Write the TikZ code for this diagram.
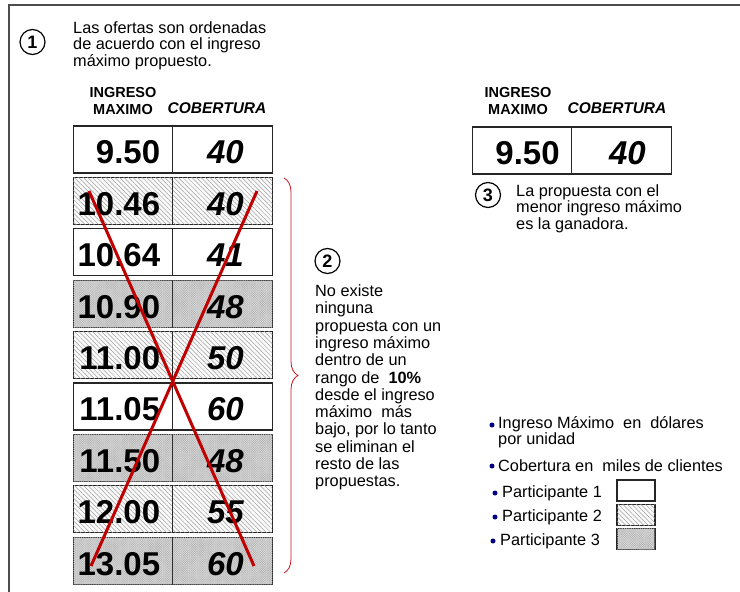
\documentclass[tikz,border=0pt]{standalone}
\usepackage{fontspec}
\setmainfont{Liberation Sans}
\usetikzlibrary{positioning,patterns.meta,decorations.pathreplacing}

\definecolor{rojocruz}{RGB}{192,0,0}
\definecolor{rojollave}{RGB}{200,20,30}
\definecolor{azulvineta}{RGB}{0,0,128}

\tikzset{
  cell/.style={draw=black!85, line width=1.2pt, minimum width=99.5pt, minimum height=47pt, inner sep=0pt},
  part1/.style={fill=white},
  part2/.style={fill=gray!4, postaction={pattern={Lines[angle=-45,distance=3.2pt,line width=0.5pt]}, pattern color=gray!75}},
  part3/.style={fill=gray!28, postaction={pattern={Hatch[angle=45,distance=1.6pt,line width=0.25pt]}, pattern color=gray!60}},
  num/.style={font=\fontsize{33}{33}\selectfont\bfseries, inner sep=0pt},
  numcob/.style={font=\fontsize{33}{33}\selectfont\bfseries\itshape, inner sep=0pt},
  head/.style={font=\fontsize{14.5}{17}\selectfont\bfseries, align=center, inner sep=0pt},
  headcob/.style={font=\fontsize{15.5}{17}\selectfont\bfseries\itshape, inner sep=0pt},
  texto/.style={font=\fontsize{16.3}{16.5}\selectfont, align=left, inner sep=0pt},
  paso/.style={circle, draw, line width=1.2pt, minimum size=25pt, inner sep=0pt, font=\fontsize{18}{18}\selectfont\bfseries},
  cruz/.style={draw=rojocruz, line width=3pt},
  llave/.style={draw=rojollave, line width=0.8pt, decorate, decoration={brace, amplitude=14pt}},
  vineta/.style={circle, fill=azulvineta, minimum size=5pt, inner sep=0pt},
  legbox/.style={draw=black!85, line width=1.1pt, minimum width=38pt, minimum height=21pt, inner sep=0pt}
}

\begin{document}
\begin{tikzpicture}[x=1pt,y=-1pt]
  \useasboundingbox (0,0) rectangle (740,592);
  % marco
  \draw[black!70, line width=1.5pt] (740,5) -- (9,5) -- (9,592);

  % paso 1
  \node[paso] (paso1) at (32.5,42) {1};
  \node[texto, anchor=north west] (texto1) at (73,21)
    {Las ofertas son ordenadas\\de acuerdo con el ingreso\\máximo propuesto.};
  \node[head] (hing) at (123,101) {INGRESO\\MAXIMO};
  \node[headcob] (hcob) at (217,108) {COBERTURA};

  % tabla de ofertas
  \foreach \ing/\cob/\tipo [count=\i] in {9.50/40/part1, 10.46/40/part2, 10.64/41/part1,
      10.90/48/part3, 11.00/50/part2, 11.05/60/part1, 11.50/48/part3, 12.00/55/part2, 13.05/60/part3}{
    \pgfmathsetmacro{\yrow}{149.5+(\i-1)*51.4}
    \node[cell,\tipo] (ing\i) at (123,\yrow) {};
    \node[cell,\tipo] (cob\i) at (222.5,\yrow) {};
    \node[num, left=13pt of ing\i.east, yshift=-3pt] (vi\i) {\ing};
    \node[numcob, xshift=3pt, yshift=-3pt] (vc\i) at (cob\i) {\cob};
  }

  % cruz roja
  \coordinate (xa) at (89,191);
  \coordinate (xb) at (254,566);
  \coordinate (xc) at (257,191);
  \coordinate (xd) at (91,566);
  \draw[cruz] (xa) -- (xb);
  \draw[cruz] (xc) -- (xd);

  % llave
  \coordinate (llave-a) at (284,178);
  \coordinate (llave-b) at (284,573);
  \draw[llave] (llave-a) -- (llave-b);

  % paso 2
  \node[paso] (paso2) at (327.5,261) {2};
  \node[texto, font=\fontsize{16.3}{17.3}\selectfont, anchor=north west] (texto2) at (315,284.5)
    {No existe\\ninguna\\propuesta con un\\ingreso máximo\\dentro de un\\rango de\ \ \textbf{10\%}\\desde el ingreso\\máximo\ \ más\\bajo, por lo tanto\\se eliminan el\\resto de las\\propuestas.};

  % ganadora
  \node[head] (gan-hing) at (518,101) {INGRESO\\MAXIMO};
  \node[headcob] (gan-hcob) at (617,108) {COBERTURA};
  \node[cell,part1] (gan-ing) at (522.5,150.5) {};
  \node[cell,part1] (gan-cob) at (621.5,150.5) {};
  \node[num, left=13pt of gan-ing.east, yshift=-3pt] (gan-vi) {9.50};
  \node[numcob, xshift=6pt, yshift=-3pt] (gan-vc) at (gan-cob) {40};

  % paso 3
  \node[paso] (paso3) at (488,195) {3};
  \node[texto, anchor=north west] (texto3) at (516,184)
    {La propuesta con el\\menor ingreso máximo\\es la ganadora.};

  % leyenda
  \node[vineta] (v1) at (492,425) {};
  \node[texto, anchor=north west] (ley1) at (498,416) {Ingreso Máximo\ \ en\ \ dólares\\por unidad};
  \node[vineta] (v2) at (492,466) {};
  \node[texto, anchor=west] (ley2) at (498,466) {Cobertura en\ \ miles de clientes};
  \node[vineta] (v3) at (495,493) {};
  \node[texto, anchor=west] (ley3) at (502,493) {Participante 1};
  \node[vineta] (v4) at (495,517) {};
  \node[texto, anchor=west] (ley4) at (502,517) {Participante 2};
  \node[vineta] (v5) at (493,541) {};
  \node[texto, anchor=west] (ley5) at (500,541) {Participante 3};
  \node[legbox,part1] (caja1) at (636,490.5) {};
  \node[legbox,part2] (caja2) at (636,515) {};
  \node[legbox,part3] (caja3) at (636,539) {};
\end{tikzpicture}
\end{document}
